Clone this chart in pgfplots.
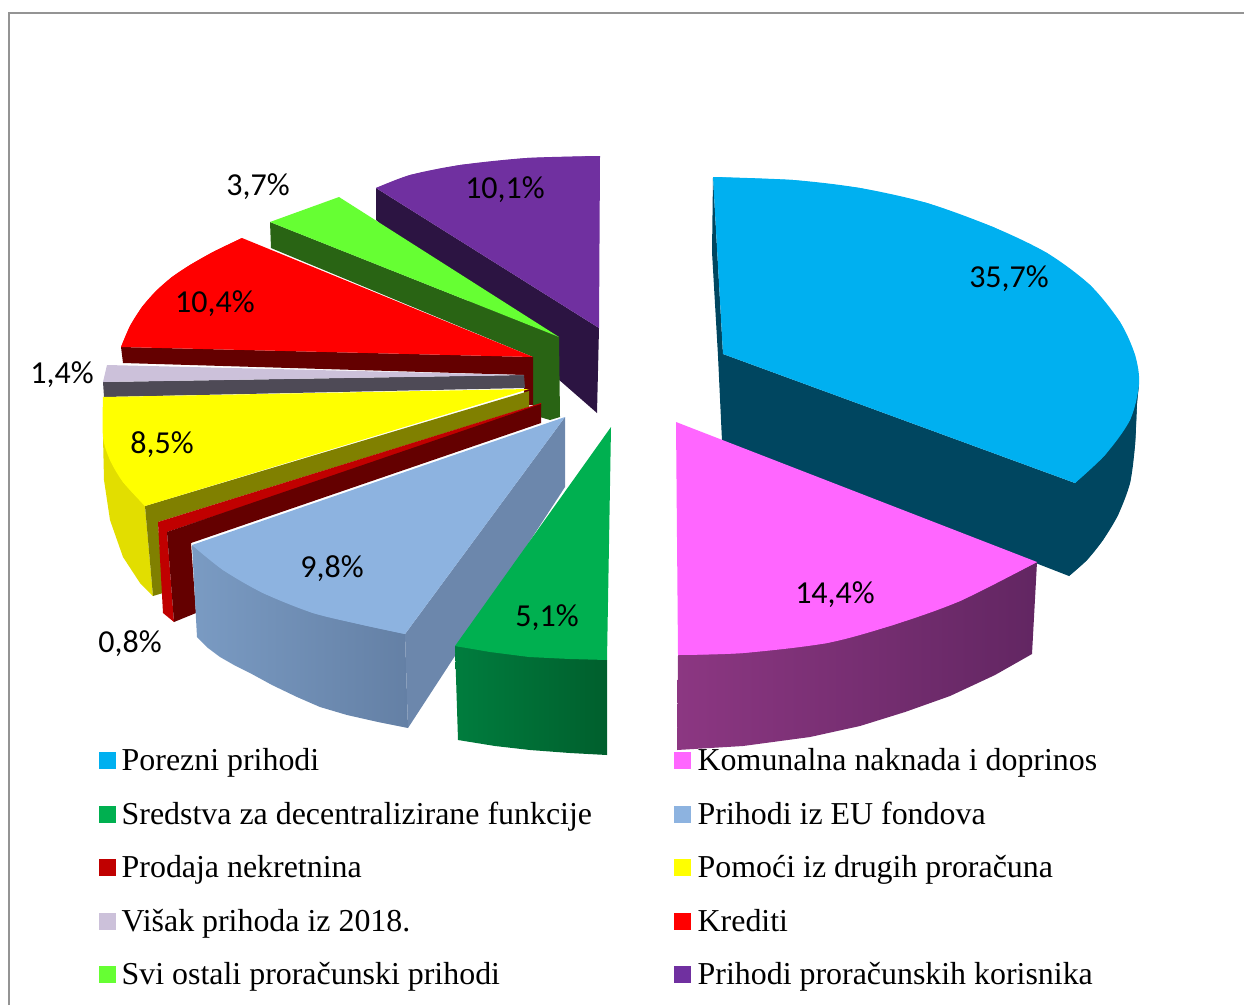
\documentclass[border=0pt]{standalone}
\usepackage{pgfplots}
\pgfplotsset{compat=1.18}
\usepackage{fontspec}
\setmainfont{Liberation Serif}
\newfontfamily\calfont{Carlito}
\definecolor{cBlue}{RGB}{0,176,240}\definecolor{cBlueD}{RGB}{0,70,96}
\definecolor{cPink}{RGB}{255,102,255}
\definecolor{cGreen}{RGB}{0,176,80}
\definecolor{cLB}{RGB}{141,179,224}\definecolor{cLBD}{RGB}{108,135,172}
\definecolor{cRed2}{RGB}{192,0,0}\definecolor{cRedD}{RGB}{100,0,0}
\definecolor{cYel}{RGB}{255,255,0}\definecolor{cOl}{RGB}{128,128,0}\definecolor{cYelD}{RGB}{226,222,0}
\definecolor{cGr}{RGB}{204,193,218}\definecolor{cGrD}{RGB}{78,74,86}
\definecolor{cRed}{RGB}{255,0,0}
\definecolor{cLime}{RGB}{102,255,51}\definecolor{cLimeD}{RGB}{41,100,20}
\definecolor{cPur}{RGB}{112,48,160}\definecolor{cPurD}{RGB}{44,20,66}
\definecolor{gA}{RGB}{0,125,62}\definecolor{gB}{RGB}{0,95,45}
\definecolor{pA}{RGB}{140,55,130}\definecolor{pB}{RGB}{98,38,98}
\definecolor{lA}{RGB}{122,155,195}\definecolor{lB}{RGB}{100,128,165}
\newcommand\poly[2]{\addplot[fill=#1,draw=none,forget plot] coordinates {#2} --cycle;}
\newcommand\seg[2]{\addplot[smooth,fill=#1,draw=none,forget plot] coordinates {#2};}
\newcommand\grad[3]{\addplot[left color=#1,right color=#2,draw=none,forget plot] coordinates {#3} --cycle;}
\newcommand\key[3]{\addplot[only marks,mark=square*,mark size=8pt,color=#1,forget plot] coordinates {(#2,#3)};}
\newcommand\lab[3]{\node[anchor=base west,inner sep=0pt,font=\fontsize{31.9}{32}\selectfont] at (axis cs:#1,#2) {#3};}
\newcommand\val[3]{\node[anchor=base,inner sep=0pt,font=\fontsize{32}{32}\selectfont\calfont] at (axis cs:#1,#2) {#3};}
\begin{document}
\begin{tikzpicture}
\begin{axis}[width=1246pt,height=1007pt,scale only axis,xmin=0,xmax=1246,ymin=0,ymax=1007,y dir=reverse,axis lines=none]
% page extent
\addplot[draw=none,forget plot] coordinates {(0,0)(1246,1007)};
% frame
\addplot[color=black!42,line width=2pt,forget plot] coordinates {(9,1005)(9,13)(1244,13)};
% purple
\poly{cPurD}{(376,188)(376,220)(597,413)(599,328)}
\poly{cPur}{(376,188)(410,175)(460,165)(527,158)(600,156)(599,328)}
\seg{cPur}{(376,188)(410,175)(460,165)(527,158)(600,156)}
% lime
\poly{cLimeD}{(270,222)(271,248)(533,357)(533,415)(550,420)(560,417)(559,337)}
\poly{cLime}{(270,222)(339,197)(559,337)}
% red
\poly{cRedD}{(121,347)(123,363)(524,375)(524,405)(533,405)(533,357)}
\poly{cRed}{(121,347)(130,326)(142,307)(156,291)(172,277)(190,265)(213,252)(242,238)(533,357)}
\seg{cRed}{(121,347)(130,326)(142,307)(156,291)(172,277)(190,265)(213,252)(242,238)}
% grey
\poly{cGrD}{(103,382)(104,397)(525,388)(524,375)}
\poly{cGr}{(107,365)(103,382)(524,375)}
% yellow
\poly{cYelD}{(103,437)(104,480)(110,520)(123,557)(140,583)(153,596)(145,506)}
\poly{cOl}{(145,506)(529,391)(529,407)(158,522)(163,593)(153,596)}
\poly{cYel}{(103,397)(529,389)(145,506)(123,482)(110,460)(103,437)}
\seg{cYel}{(145,506)(123,482)(110,460)(103,437)(103,397)}
% small red
\poly{cRed2}{(158,522)(163,613)(174,622)(167,532)(541,407)(541,403)}
\poly{cRedD}{(167,532)(174,622)(196,613)(191,543)(541,423)(541,404)}
% light blue
\grad{lA}{lB}{(192,545)(197,637)(208,648)(220,657)(234,665)(250,673)(272,685)(297,697)(320,707)(347,715)(378,722)(408,728)(405,634)}
\poly{cLBD}{(405,634)(408,728)(565,487)(565,417)}
\poly{cLB}{(192,545)(565,417)(405,634)(363,625)(313,613)(263,593)(223,570)}
\seg{cLB}{(192,545)(223,570)(263,593)(313,613)(363,625)(405,634)}
% green
\grad{gA}{gB}{(455,646)(458,740)(495,746)(530,750)(570,753)(607,755)(607,660)}
\poly{cGreen}{(611,427)(455,646)(490,652)(529,657)(570,659)(607,660)}
% blue
\poly{cBlueD}{(713,177)(712,252)(718,356)(722,441)(1069,576)(1087,560)(1103,540)(1118,515)(1130,483)(1135,445)(1137,403)(1139,384)(1075,483)(723,354)}
\seg{cBlueD}{(1069,576)(1087,560)(1103,540)(1118,515)(1130,483)(1135,445)(1137,403)(1139,384)}
\poly{cBlue}{(713,177)(793,180)(860,188)(927,203)(993,227)(1047,253)(1090,285)(1120,322)(1135,355)(1139,384)(1130,420)(1105,455)(1075,483)(723,354)}
\seg{cBlue}{(713,177)(793,180)(860,188)(927,203)(993,227)(1047,253)(1090,285)(1120,322)(1135,355)(1139,384)(1130,420)(1105,455)(1075,483)}
% pink
\grad{pA}{pB}{(678,655)(677,750)(743,746)(810,737)(860,726)(905,712)(950,696)(995,675)(1032,654)(1037,562)}
\poly{cPink}{(676,422)(1037,562)(960,601)(893,625)(827,643)(743,653)(678,655)}
\seg{cPink}{(1037,562)(960,601)(893,625)(827,643)(743,653)(678,655)}
% values
\val{1009}{287}{35,7\%}
\val{835}{603}{14,4\%}
\val{547}{626}{5,1\%}
\val{332}{577}{9,8\%}
\val{130}{652}{0,8\%}
\val{162}{453}{8,5\%}
\val{62}{383}{1,4\%}
\val{215}{312}{10,4\%}
\val{258}{195}{3,7\%}
\val{505}{198}{10,1\%}
% legend
\key{cBlue}{107}{760}\lab{121.5}{770}{Porezni prihodi}
\key{cGreen}{107}{814}\lab{121.5}{824}{Sredstva za decentralizirane funkcije}
\key{cRed2}{107}{867}\lab{121.5}{877}{Prodaja nekretnina}
\key{cGr}{107}{921}\lab{121.5}{931}{Višak prihoda iz 2018.}
\key{cLime}{107}{974}\lab{121.5}{984}{Svi ostali proračunski prihodi}
\key{cPink}{682}{760}\lab{697.5}{770}{Komunalna naknada i doprinos}
\key{cLB}{682}{814}\lab{697.5}{824}{Prihodi iz EU fondova}
\key{cYel}{682}{867}\lab{697.5}{877}{Pomoći iz drugih proračuna}
\key{cRed}{682}{921}\lab{697.5}{931}{Krediti}
\key{cPur}{682}{974}\lab{697.5}{984}{Prihodi proračunskih korisnika}
\end{axis}
\end{tikzpicture}
\end{document}
